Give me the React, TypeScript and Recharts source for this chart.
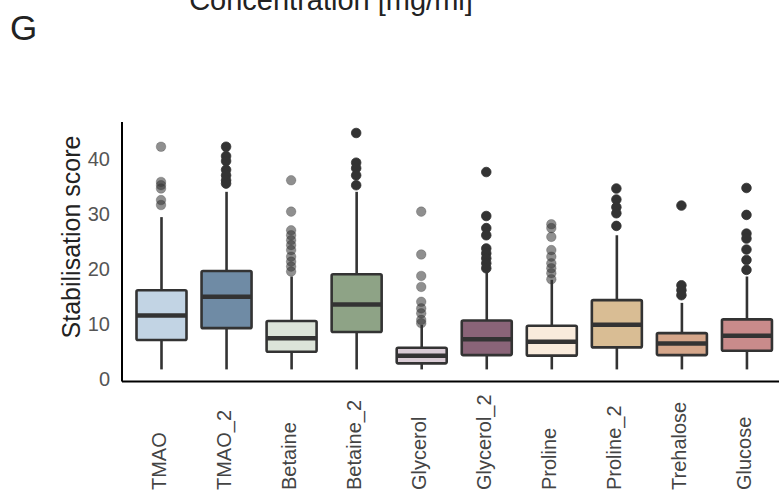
import { Bar, ComposedChart, Scatter, XAxis, YAxis } from 'recharts';

// Stabilisation score distributions per osmolyte / concentration
const categories = [
  'TMAO', 'TMAO_2', 'Betaine', 'Betaine_2', 'Glycerol',
  'Glycerol_2', 'Proline', 'Proline_2', 'Trehalose', 'Glucose',
];
const whiskerLow = [1.8, 1.8, 1.8, 1.8, 1.8, 1.8, 1.8, 1.8, 1.8, 1.8];
const q1 = [7.15, 9.3, 5.0, 8.6, 2.9, 4.4, 4.3, 5.8, 4.4, 5.2];
const medians = [11.6, 15.0, 7.45, 13.6, 4.3, 7.3, 6.85, 9.9, 6.5, 7.9];
const q3 = [16.2, 19.7, 10.6, 19.1, 5.75, 10.7, 9.75, 14.4, 8.4, 10.9];
const whiskerHigh = [29.5, 34.1, 18.7, 34.1, 9.9, 19.6, 18.1, 26.2, 13.9, 18.7];
const outliers: number[][] = [
  [42.3, 35.9, 35.3, 34.7, 32.6, 31.7],
  [42.3, 40.6, 39.7, 38.1, 37.1, 36.2, 35.6],
  [36.2, 30.5, 27.1, 26.2, 25.3, 24.4, 23.5, 22.3, 21.4, 20.5, 19.6],
  [44.8, 39.4, 38.4, 37.1, 35.3],
  [30.5, 22.7, 18.8, 16.8, 14.1, 12.9, 12.0, 10.8, 10.2],
  [37.7, 29.7, 27.5, 26.2, 23.8, 22.9, 22.0, 21.1, 20.2],
  [28.2, 27.5, 25.9, 23.5, 22.3, 21.1, 20.2, 19.3, 18.2],
  [34.7, 32.7, 31.3, 30.2, 27.9],
  [31.6, 17.1, 16.2, 15.3],
  [34.8, 29.9, 26.5, 25.6, 23.6, 21.7, 19.9],
];
const yTicks = [0, 10, 20, 30, 40];

const BOX_FILLS = [
  '#c2d4e4', '#6f8ba5', '#dce4d9', '#8ea386', '#d9cbd5',
  '#8a6478', '#f9ebdc', '#d9bd94', '#d5a68a', '#c98b8b',
];
// first-concentration groups get semi-transparent fliers
const FADED = new Set(['TMAO', 'Betaine', 'Glycerol', 'Proline']);
const EDGE = '#333333';
const FONT = '"Liberation Sans", Arial, sans-serif';

const rows = categories.map((name, i) => ({
  name,
  low: whiskerLow[i],
  q1: q1[i],
  median: medians[i],
  q3: q3[i],
  high: whiskerHigh[i],
  fill: BOX_FILLS[i],
}));

const outlierPoints = categories.flatMap((name, i) =>
  outliers[i].map(value => ({ name, value })),
);

function BoxShape(props: any) {
  const { x, y, width, height, payload } = props;
  const top = Math.min(y, y + height);
  const bottom = Math.max(y, y + height);
  const { low, high } = payload;
  const toY = (v: number) => bottom - ((v - low) / (high - low)) * (bottom - top);
  const cx = x + width / 2;
  const yQ1 = toY(payload.q1);
  const yQ3 = toY(payload.q3);
  const yMed = toY(payload.median);
  return (
    <g>
      <line x1={cx} x2={cx} y1={top} y2={bottom} stroke={EDGE} strokeWidth={2.6} />
      <rect
        x={x}
        y={yQ3}
        width={width}
        height={yQ1 - yQ3}
        fill={payload.fill}
        stroke={EDGE}
        strokeWidth={2.6}
        rx={1.5}
      />
      <line x1={x} x2={x + width} y1={yMed} y2={yMed} stroke={EDGE} strokeWidth={4.5} />
    </g>
  );
}

function Flier(props: any) {
  const { cx, cy, payload } = props;
  const faded = FADED.has(payload.name);
  return (
    <circle
      cx={cx}
      cy={cy}
      r={4.8}
      fill={EDGE}
      fillOpacity={faded ? 0.55 : 1}
      stroke={EDGE}
      strokeOpacity={faded ? 0.35 : 1}
      strokeWidth={0.8}
    />
  );
}

function CategoryTick(props: any) {
  const { x, payload } = props;
  const baseY = 490;
  return (
    <text
      x={x - 2}
      y={baseY}
      transform={`rotate(-90, ${x - 2}, ${baseY})`}
      textAnchor="start"
      dominantBaseline="central"
      fontSize={20}
      fontFamily={FONT}
      fill="#444"
    >
      {payload.value}
    </text>
  );
}

export default function App() {
  return (
    <div
      style={{
        position: 'absolute',
        left: 0,
        top: 0,
        width: 779,
        height: 493,
        background: '#fff',
        fontFamily: FONT,
      }}
    >
      <svg width={779} height={493} style={{ position: 'absolute', left: 0, top: 0 }}>
        <text x={10} y={40} fontSize={35} fill="#222" fontFamily={FONT}>
          G
        </text>
        <text x={331} y={10} fontSize={29} fill="#222" textAnchor="middle" fontFamily={FONT}>
          Concentration [mg/ml]
        </text>
        <text
          x={71}
          y={237}
          transform="rotate(-90, 71, 237)"
          fontSize={25}
          fill="#222"
          textAnchor="middle"
          dominantBaseline="central"
          fontFamily={FONT}
        >
          Stabilisation score
        </text>
      </svg>
      <div style={{ position: 'absolute', left: 0, top: 0 }}>
        <ComposedChart
          width={779}
          height={493}
          data={rows}
          margin={{ top: 122, right: 0, bottom: 11.5, left: 62 }}
        >
          <XAxis
            dataKey="name"
            type="category"
            allowDuplicatedCategory={false}
            height={100}
            padding={{ left: 6.5, right: 0 }}
            axisLine={{ stroke: '#000', strokeWidth: 2 }}
            tickLine={false}
            tick={<CategoryTick />}
            interval={0}
          />
          <YAxis
            width={60}
            type="number"
            domain={[-0.4, 46.8]}
            ticks={yTicks}
            axisLine={{ stroke: '#000', strokeWidth: 2 }}
            tickLine={false}
            tickSize={12}
            tickMargin={0}
            tick={{ fontSize: 20, fill: '#555', fontFamily: FONT }}
          />
          <Bar
            dataKey={(d: any) => [d.low, d.high]}
            barSize={50}
            shape={<BoxShape />}
            isAnimationActive={false}
          />
          <Scatter
            data={outlierPoints}
            dataKey="value"
            shape={<Flier />}
            isAnimationActive={false}
          />
        </ComposedChart>
      </div>
    </div>
  );
}
